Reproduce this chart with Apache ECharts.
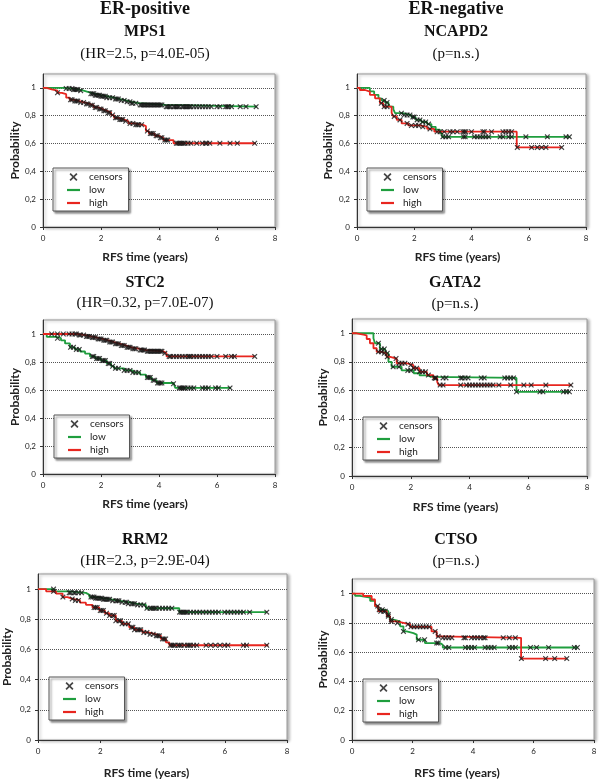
<!DOCTYPE html>
<html><head><meta charset="utf-8">
<script src="https://cdn.jsdelivr.net/npm/echarts@6/dist/echarts.min.js"></script>
<style>html,body{margin:0;padding:0;background:#fff}#c{width:601px;height:781px}</style>
</head><body><div id="c"></div>
<script>
// ---------------- DATA ----------------
const groupTitles = ['ER-positive', 'ER-negative'];
const genes = ['MPS1', 'NCAPD2', 'STC2', 'GATA2', 'RRM2', 'CTSO'];
const stats = ['(HR=2.5, p=4.0E-05)', '(p=n.s.)', '(HR=0.32, p=7.0E-07)', '(p=n.s.)', '(HR=2.3, p=2.9E-04)', '(p=n.s.)'];
const seriesNames = ['censors', 'low', 'high'];
const xTicks = [0, 2, 4, 6, 8];
const yTicks = [0, 0.2, 0.4, 0.6, 0.8, 1];
const yTickLabels = ['0', '0,2', '0,4', '0,6', '0,8', '1'];
const xAxisTitle = 'RFS time (years)';
const yAxisTitle = 'Probability';

// MPS1 (ER-positive)
const mps1LowT  = [0, 0.75, 1.02, 1.25, 1.4, 1.6, 1.8, 2.0, 2.2, 2.45, 2.65, 2.85, 3.05, 3.3, 4.2, 7.38];
const mps1LowS  = [1, 0.995, 0.988, 0.98, 0.968, 0.958, 0.948, 0.94, 0.93, 0.92, 0.91, 0.9, 0.89, 0.878, 0.865, 0.865];
const mps1LowC  = [0.8, 0.9, 1.0, 1.05, 1.1, 1.15, 1.2, 1.3, 1.65, 1.7, 1.75, 1.8, 1.85, 1.9, 1.95, 2.0, 2.05, 2.1, 2.15, 2.2, 2.3, 2.4, 2.5, 2.55, 2.6, 2.7, 2.8, 2.9, 3.0, 3.05, 3.1, 3.2, 3.35, 3.4, 3.45, 3.5, 3.55, 3.6, 3.65, 3.7, 3.75, 3.8, 3.85, 3.9, 3.95, 4.0, 4.05, 4.1, 4.25, 4.3, 4.35, 4.4, 4.5, 4.55, 4.6, 4.65, 4.7, 4.8, 4.85, 4.9, 4.95, 5.0, 5.05, 5.1, 5.2, 5.3, 5.4, 5.5, 5.6, 5.7, 5.8, 6.0, 6.1, 6.3, 6.35, 6.4, 6.5, 6.8, 7.0, 7.35];
const mps1HighT = [0, 0.12, 0.3, 0.5, 0.65, 0.8, 0.92, 1.05, 1.25, 1.45, 1.6, 1.75, 1.9, 2.05, 2.2, 2.35, 2.45, 2.6, 2.8, 2.95, 3.15, 3.45, 3.55, 3.65, 3.85, 4.0, 4.15, 4.5, 7.33];
const mps1HighS = [1, 0.99, 0.98, 0.965, 0.955, 0.93, 0.915, 0.905, 0.895, 0.885, 0.875, 0.86, 0.848, 0.835, 0.822, 0.805, 0.785, 0.772, 0.76, 0.745, 0.735, 0.725, 0.69, 0.672, 0.656, 0.642, 0.625, 0.602, 0.602];
const mps1HighC = [0.5, 0.95, 1.0, 1.1, 1.15, 1.2, 1.3, 1.4, 1.5, 1.55, 1.65, 1.7, 1.8, 1.85, 1.95, 2.0, 2.1, 2.15, 2.25, 2.3, 2.4, 2.5, 2.55, 2.65, 2.7, 2.75, 2.85, 3.0, 3.1, 3.2, 3.25, 3.3, 3.4, 3.6, 3.7, 3.75, 3.8, 3.9, 3.95, 4.05, 4.1, 4.2, 4.25, 4.3, 4.6, 4.65, 4.7, 4.75, 4.8, 4.85, 4.9, 5.0, 5.1, 5.3, 5.5, 5.6, 5.65, 5.75, 6.1, 6.45, 6.7, 7.3];

// NCAPD2 (ER-negative)
const ncapLowT  = [0, 0.45, 0.6, 0.75, 0.85, 0.98, 1.1, 1.15, 1.27, 1.33, 1.6, 1.9, 2.05, 2.25, 2.45, 2.6, 2.75, 2.9, 2.97, 7.45];
const ncapLowS  = [1, 0.975, 0.95, 0.925, 0.91, 0.895, 0.88, 0.865, 0.845, 0.818, 0.805, 0.79, 0.77, 0.755, 0.74, 0.72, 0.7, 0.675, 0.648, 0.648];
const ncapLowC  = [0.95, 1.05, 1.55, 1.65, 1.75, 1.85, 1.95, 2.0, 2.1, 2.2, 2.3, 2.4, 2.5, 3.0, 3.1, 3.2, 3.72, 3.78, 4.1, 4.2, 4.3, 4.4, 4.5, 4.6, 5.0, 5.1, 5.3, 5.4, 5.9, 6.65, 7.3, 7.42];
const ncapHighT = [0, 0.1, 0.28, 0.45, 0.63, 0.8, 0.92, 1.21, 1.27, 1.39, 1.56, 1.79, 2.2, 2.45, 2.7, 5.58, 7.15];
const ncapHighS = [1, 0.985, 0.973, 0.95, 0.925, 0.89, 0.865, 0.82, 0.795, 0.77, 0.745, 0.73, 0.72, 0.705, 0.685, 0.572, 0.572];
const ncapHighC = [0.85, 0.95, 1.05, 1.3, 1.5, 1.75, 1.9, 2.05, 2.15, 2.3, 2.55, 2.8, 2.9, 3.05, 3.25, 3.35, 3.5, 3.7, 3.75, 3.8, 4.0, 4.4, 4.45, 4.7, 5.1, 5.2, 5.3, 5.4, 5.6, 6.1, 6.3, 6.45, 6.6, 7.15];

// STC2 (ER-positive)
const stcLowT  = [0, 0.13, 0.45, 0.62, 0.76, 0.93, 1.1, 1.28, 1.45, 1.62, 1.8, 2.0, 2.2, 2.35, 2.45, 2.8, 3.1, 3.35, 3.55, 3.75, 3.92, 4.5, 4.56, 6.48];
const stcLowS  = [1, 0.98, 0.97, 0.955, 0.933, 0.905, 0.89, 0.875, 0.86, 0.84, 0.825, 0.81, 0.79, 0.77, 0.755, 0.74, 0.725, 0.71, 0.69, 0.67, 0.65, 0.645, 0.615, 0.615];
const stcLowC  = [0.5, 0.95, 1.05, 1.15, 1.25, 1.7, 1.75, 1.85, 1.9, 1.95, 2.05, 2.1, 2.15, 2.25, 2.3, 2.4, 2.5, 2.6, 2.8, 2.9, 3.0, 3.1, 3.2, 3.3, 3.6, 3.65, 3.7, 3.8, 3.85, 3.95, 4.0, 4.05, 4.1, 4.5, 4.7, 4.75, 4.8, 4.85, 4.9, 5.0, 5.1, 5.2, 5.5, 5.6, 5.7, 5.95, 6.05, 6.45];
const stcHighT = [0, 1.2, 1.45, 1.65, 1.85, 2.05, 2.25, 2.45, 2.65, 2.85, 3.05, 3.3, 3.55, 4.15, 4.26, 7.3];
const stcHighS = [1, 0.992, 0.983, 0.975, 0.965, 0.955, 0.942, 0.93, 0.918, 0.905, 0.895, 0.885, 0.876, 0.862, 0.84, 0.84];
const stcHighC = [0.3, 0.5, 0.7, 0.9, 1.0, 1.1, 1.15, 1.25, 1.3, 1.4, 1.5, 1.55, 1.6, 1.7, 1.75, 1.8, 1.9, 1.95, 2.0, 2.1, 2.15, 2.2, 2.3, 2.35, 2.4, 2.5, 2.55, 2.6, 2.7, 2.75, 2.8, 2.9, 2.95, 3.0, 3.1, 3.15, 3.2, 3.35, 3.4, 3.45, 3.5, 3.6, 3.65, 3.7, 3.75, 3.8, 3.85, 3.9, 3.95, 4.0, 4.05, 4.1, 4.2, 4.35, 4.4, 4.5, 4.6, 4.7, 4.8, 4.9, 5.0, 5.05, 5.1, 5.2, 5.3, 5.4, 5.5, 5.6, 5.7, 5.8, 6.0, 6.3, 6.5, 6.6, 7.3];

// GATA2 (ER-negative)
const gataLowT  = [0, 0.73, 0.78, 0.95, 1.13, 1.24, 1.35, 1.69, 2.1, 2.3, 2.55, 2.72, 5.6, 7.42];
const gataLowS  = [1, 0.965, 0.93, 0.89, 0.86, 0.8, 0.765, 0.74, 0.72, 0.705, 0.695, 0.687, 0.59, 0.59];
const gataLowC  = [0.9, 1.0, 1.1, 1.2, 1.4, 1.6, 1.9, 2.0, 2.8, 2.85, 3.1, 3.2, 3.7, 3.75, 3.85, 3.95, 4.4, 4.5, 5.2, 5.3, 5.4, 5.5, 5.6, 6.4, 6.5, 7.2, 7.3, 7.4];
const gataHighT = [0, 0.16, 0.39, 0.5, 0.61, 0.73, 0.84, 1.01, 1.18, 1.3, 1.52, 1.86, 2.09, 2.3, 2.55, 2.77, 2.9, 2.95, 7.47];
const gataHighS = [1, 0.99, 0.985, 0.96, 0.93, 0.895, 0.87, 0.86, 0.835, 0.823, 0.79, 0.777, 0.755, 0.73, 0.707, 0.685, 0.66, 0.637, 0.637];
const gataHighC = [0.9, 1.0, 1.1, 1.2, 1.5, 1.6, 1.7, 1.8, 2.0, 2.1, 2.2, 2.3, 2.4, 2.5, 2.6, 2.85, 3.0, 3.1, 3.7, 3.9, 4.0, 4.1, 4.2, 4.3, 4.4, 4.5, 4.6, 4.7, 4.8, 5.0, 5.4, 5.85, 6.1, 6.6, 7.45];

// RRM2 (ER-positive)
const rrmLowT  = [0, 0.52, 1.0, 1.54, 1.65, 1.85, 2.08, 2.35, 2.61, 2.9, 3.15, 3.47, 4.54, 7.35];
const rrmLowS  = [1, 0.985, 0.975, 0.962, 0.947, 0.94, 0.932, 0.922, 0.913, 0.903, 0.895, 0.873, 0.847, 0.847];
const rrmLowC  = [0.5, 1.0, 1.05, 1.15, 1.2, 1.3, 1.4, 1.7, 1.75, 1.8, 1.85, 1.9, 1.95, 2.0, 2.05, 2.1, 2.15, 2.2, 2.25, 2.3, 2.4, 2.5, 2.55, 2.6, 2.7, 2.8, 2.85, 2.9, 3.0, 3.05, 3.1, 3.2, 3.3, 3.4, 3.5, 3.6, 3.65, 3.7, 3.75, 3.8, 3.9, 4.0, 4.1, 4.2, 4.3, 4.55, 4.6, 4.65, 4.7, 4.75, 4.8, 4.9, 5.0, 5.1, 5.2, 5.3, 5.4, 5.5, 5.6, 5.7, 5.8, 6.0, 6.1, 6.2, 6.3, 6.4, 6.5, 6.6, 6.8, 7.35];
const rrmHighT = [0, 0.26, 0.58, 0.79, 0.95, 1.11, 1.35, 1.54, 1.75, 1.97, 2.15, 2.29, 2.5, 2.7, 2.93, 3.1, 3.36, 3.55, 3.79, 3.95, 4.11, 4.22, 7.4];
const rrmHighS = [1, 0.985, 0.97, 0.947, 0.935, 0.925, 0.91, 0.896, 0.878, 0.858, 0.84, 0.825, 0.79, 0.77, 0.747, 0.73, 0.713, 0.7, 0.69, 0.67, 0.647, 0.628, 0.628];
const rrmHighC = [0.5, 0.8, 1.1, 1.2, 1.3, 1.8, 1.85, 1.9, 2.0, 2.05, 2.1, 2.2, 2.3, 2.4, 2.45, 2.5, 2.6, 2.65, 2.7, 2.8, 2.9, 3.0, 3.05, 3.1, 3.2, 3.25, 3.3, 3.4, 3.5, 3.6, 3.7, 3.8, 3.85, 3.9, 4.0, 4.05, 4.1, 4.25, 4.3, 4.35, 4.4, 4.5, 4.55, 4.6, 4.7, 4.8, 4.85, 4.9, 5.0, 5.1, 5.4, 5.55, 5.7, 5.85, 6.0, 6.1, 6.6, 6.7, 7.35];

// CTSO (ER-negative)
const ctsoLowT  = [0, 0.1, 0.26, 0.6, 0.76, 0.87, 1.04, 1.2, 1.26, 1.37, 1.59, 1.7, 1.81, 2.03, 2.14, 2.41, 2.91, 3.0, 7.47];
const ctsoLowS  = [1, 0.985, 0.972, 0.95, 0.915, 0.89, 0.88, 0.857, 0.823, 0.81, 0.777, 0.742, 0.73, 0.72, 0.685, 0.662, 0.65, 0.632, 0.632];
const ctsoLowC  = [0.9, 1.0, 1.1, 1.2, 1.3, 1.7, 2.2, 2.4, 2.8, 2.85, 3.1, 3.2, 3.75, 3.85, 3.95, 4.05, 4.4, 4.5, 4.6, 4.7, 5.2, 5.3, 5.4, 5.9, 6.1, 6.5, 7.35, 7.45];
const ctsoHighT = [0, 0.37, 0.65, 0.76, 0.87, 1.15, 1.26, 1.48, 1.7, 1.92, 2.63, 2.8, 2.91, 5.59, 7.1];
const ctsoHighS = [1, 0.984, 0.96, 0.915, 0.88, 0.846, 0.81, 0.8, 0.79, 0.773, 0.742, 0.708, 0.698, 0.556, 0.556];
const ctsoHighC = [0.85, 0.95, 1.05, 1.2, 1.3, 1.5, 1.85, 1.95, 2.05, 2.15, 2.25, 2.35, 2.45, 2.55, 2.75, 2.85, 3.0, 3.1, 3.2, 3.3, 3.7, 3.75, 3.95, 4.05, 4.15, 4.25, 4.35, 4.4, 5.0, 5.2, 5.4, 5.6, 6.4, 6.7, 7.1];

const curves = [
  [mps1LowT, mps1LowS, mps1LowC, mps1HighT, mps1HighS, mps1HighC],
  [ncapLowT, ncapLowS, ncapLowC, ncapHighT, ncapHighS, ncapHighC],
  [stcLowT, stcLowS, stcLowC, stcHighT, stcHighS, stcHighC],
  [gataLowT, gataLowS, gataLowC, gataHighT, gataHighS, gataHighC],
  [rrmLowT, rrmLowS, rrmLowC, rrmHighT, rrmHighS, rrmHighC],
  [ctsoLowT, ctsoLowS, ctsoLowC, ctsoHighT, ctsoHighS, ctsoHighC]
];

// ---------------- LAYOUT / STYLE ----------------
const GREEN = '#1f9e3e', RED = '#e8261f';
const SERIF = '"Liberation Serif","Times New Roman",serif';
const SANS = 'Lato, "Open Sans", sans-serif';
const XPATH = 'path://M0,1.5L1.5,0L5,3.5L8.5,0L10,1.5L6.5,5L10,8.5L8.5,10L5,6.5L1.5,10L0,8.5L3.5,5Z';
const LINEPATH = 'path://M0,0L13,0L13,2.2L0,2.2Z';
const layout = [
  {g:{left:43, top:74, width:232, height:153}, lg:{left:53, top:168}, cx:145, tGene:24, tStat:47, yGap:22, xGap:24, xOff:14},
  {g:{left:357, top:74, width:229, height:153}, lg:{left:367, top:168}, cx:456, tGene:24, tStat:47, yGap:23, xGap:24, xOff:14},
  {g:{left:43, top:320, width:232, height:154}, lg:{left:54, top:415}, cx:145, tGene:275, tStat:296, yGap:22, xGap:24, xOff:14},
  {g:{left:352, top:319, width:235, height:157}, lg:{left:363, top:417}, cx:455, tGene:275, tStat:297, yGap:23, xGap:25, xOff:14},
  {g:{left:38, top:574, width:249, height:166}, lg:{left:49, top:677}, cx:145, tGene:532, tStat:554, yGap:25, xGap:27, xOff:16},
  {g:{left:352, top:579, width:242, height:161}, lg:{left:363, top:679}, cx:456, tGene:532, tStat:554, yGap:23, xGap:27, xOff:16}
];

function survAt(T, S, t) {
  let v = S[0];
  for (let i = 0; i < T.length; i++) { if (T[i] <= t + 1e-9) v = S[i]; else break; }
  return v;
}
function stepData(T, S) { return T.map((t, i) => [t, S[i]]); }
function censorData(T, S, C) { return C.map(t => [t, survAt(T, S, t)]); }
function yLabel(v) {
  const i = yTicks.findIndex(t => Math.abs(t - v) < 1e-6);
  return i >= 0 ? yTickLabels[i] : '';
}
function xLabel(v) {
  const i = xTicks.findIndex(t => Math.abs(t - v) < 1e-6);
  return i >= 0 ? String(xTicks[i]) : '';
}

const grid = [], xAxis = [], yAxis = [], series = [], legend = [], title = [];
groupTitles.forEach((t, k) => {
  title.push({text: t, left: layout[k].cx, top: 0, textAlign: 'center', padding: 0,
    textStyle: {fontFamily: SERIF, fontWeight: 'bold', fontSize: 18, color: '#111'}});
});
layout.forEach((L, i) => {
  title.push({text: genes[i], left: L.cx, top: L.tGene, textAlign: 'center', padding: 0,
    textStyle: {fontFamily: SERIF, fontWeight: 'bold', fontSize: 16, color: '#111'}});
  title.push({text: stats[i], left: L.cx, top: L.tStat, textAlign: 'center', padding: 0,
    textStyle: {fontFamily: SERIF, fontWeight: 'normal', fontSize: 15, color: '#111'}});
  grid.push(Object.assign({show: true, backgroundColor: '#fff', borderColor: '#9a9a9a', borderWidth: 1,
    shadowColor: 'rgba(0,0,0,0.3)', shadowBlur: 3, shadowOffsetX: 2, shadowOffsetY: 1}, L.g));
  xAxis.push({type: 'value', gridIndex: i, min: 0, max: 8, interval: 2,
    axisLine: {show: true, onZero: false, lineStyle: {color: '#333', width: 1}},
    axisTick: {show: true, length: 3, lineStyle: {color: '#333'}},
    axisLabel: {fontFamily: SANS, fontSize: 8, color: '#222', margin: 7, formatter: xLabel},
    splitLine: {show: false},
    name: xAxisTitle, nameLocation: 'middle', nameGap: L.xGap,
    nameTextStyle: {fontFamily: SANS, fontWeight: 'bold', fontSize: 12, color: '#222', padding: [0, 2 * L.xOff, 0, 0]}});
  yAxis.push({type: 'value', gridIndex: i, min: 0, max: 1.1, interval: 0.2,
    axisLine: {show: true, onZero: false, lineStyle: {color: '#333', width: 1}},
    axisTick: {show: true, length: 3, lineStyle: {color: '#333'}},
    axisLabel: {fontFamily: SANS, fontSize: 8, color: '#222', margin: 7, formatter: yLabel, showMaxLabel: false},
    splitLine: {show: true, showMaxLine: false, lineStyle: {color: '#555', type: 'dotted', width: 1}},
    name: yAxisTitle, nameLocation: 'middle', nameGap: L.yGap,
    nameTextStyle: {fontFamily: SANS, fontWeight: 'bold', fontSize: 12, color: '#222'}});
  const c = curves[i];
  series.push({name: 'low', type: 'line', xAxisIndex: i, yAxisIndex: i, step: 'end',
    data: stepData(c[0], c[1]), symbol: 'none', showSymbol: false,
    lineStyle: {color: GREEN, width: 1.8}, itemStyle: {color: GREEN}, z: 2, silent: true});
  series.push({name: 'high', type: 'line', xAxisIndex: i, yAxisIndex: i, step: 'end',
    data: stepData(c[3], c[4]), symbol: 'none', showSymbol: false,
    lineStyle: {color: RED, width: 1.8}, itemStyle: {color: RED}, z: 2, silent: true});
  series.push({name: 'censors', type: 'scatter', xAxisIndex: i, yAxisIndex: i,
    data: censorData(c[0], c[1], c[2]).concat(censorData(c[3], c[4], c[5])),
    symbol: XPATH, symbolSize: 5.5, itemStyle: {color: '#151515'}, z: 3, silent: true});
  legend.push({left: L.lg.left, top: L.lg.top, orient: 'vertical', selectedMode: false,
    data: [{name: seriesNames[0], icon: XPATH}, {name: seriesNames[1], icon: LINEPATH}, {name: seriesNames[2], icon: LINEPATH}],
    itemWidth: 13, itemHeight: 8, itemGap: 3, padding: [4, 6, 3, 14],
    backgroundColor: '#fff', borderColor: '#555', borderWidth: 1,
    shadowColor: 'rgba(0,0,0,0.45)', shadowBlur: 2, shadowOffsetX: 2, shadowOffsetY: 2,
    textStyle: {fontFamily: SANS, fontSize: 10, color: '#222', padding: [0, 0, 0, 4]}});
});

const chart = echarts.init(document.getElementById('c'), null, {renderer: 'canvas'});
chart.setOption({animation: false, backgroundColor: '#fff', title, grid, xAxis, yAxis, series, legend});
</script>
</body></html>
